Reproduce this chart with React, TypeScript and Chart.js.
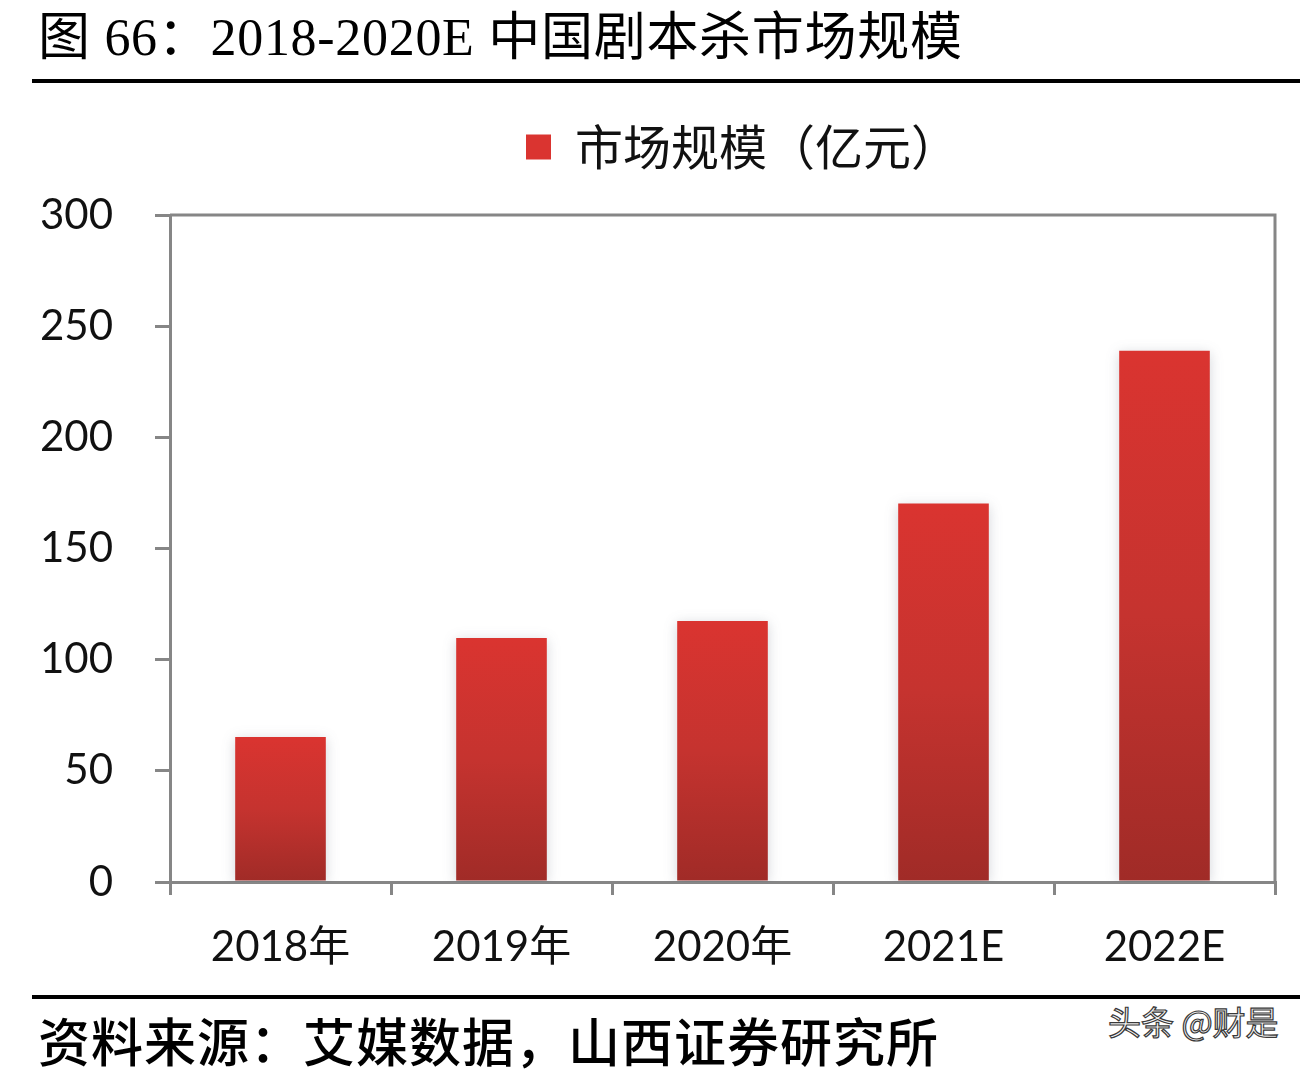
import React, { useEffect, useRef } from "react";
import { Chart, registerables } from "chart.js";

Chart.register(...registerables);

const categories = ["2018年", "2019年", "2020年", "2021E", "2022E"];
const marketSize = [65.2, 109.7, 117.4, 170.2, 238.9];
const seriesLabel = "市场规模（亿元）";
const yMin = 0;
const yMax = 300;
const yStep = 50;

const AXIS = "#868686";
const TICK_FONT = "Lato, 'Noto Sans CJK SC', sans-serif";

const legendGapPlugin = {
  id: "legendGap",
  beforeLayout(chart: any) {
    const lg = chart.legend;
    if (lg && !lg._gapPatched) {
      const orig = lg.fit;
      lg.fit = function (this: any) {
        orig.call(this);
        this.height += 29;
      };
      lg._gapPatched = true;
    }
  },
  afterLayout(chart: any) {
    const lg = chart.legend;
    if (lg) {
      lg.left += 20;
      lg.right += 20;
      lg.top -= 5;
      lg.bottom -= 5;
    }
  },
};

const framePlugin = {
  id: "frame",
  beforeDatasetsDraw(chart: any) {
    const { ctx, chartArea } = chart;
    const { left, right, top, bottom } = chartArea;
    ctx.save();
    ctx.strokeStyle = AXIS;
    ctx.lineWidth = 3;
    ctx.beginPath();
    ctx.moveTo(left, top);
    ctx.lineTo(right, top);
    ctx.lineTo(right, bottom);
    ctx.stroke();
    ctx.restore();
    ctx.save();
    ctx.shadowColor = "rgba(60,70,90,0.22)";
    ctx.shadowBlur = 12;
    ctx.shadowOffsetX = 0;
    ctx.shadowOffsetY = 2;
  },
  afterDatasetsDraw(chart: any) {
    chart.ctx.restore();
  },
};

function barColor(context: any) {
  if (context.type !== "data") return "#cf302c";
  const chart = context.chart;
  const y = chart.scales && chart.scales.y;
  if (!y || !chart.chartArea) return "#cf302c";
  const v = context.raw as number;
  const top = y.getPixelForValue(v);
  const base = y.getPixelForValue(0);
  if (!isFinite(top) || !isFinite(base) || top === base) return "#cf302c";
  const g = chart.ctx.createLinearGradient(0, top, 0, base);
  g.addColorStop(0, "#da3430");
  g.addColorStop(0.5, "#c5332f");
  g.addColorStop(1, "#a02b27");
  return g;
}

function BarChart() {
  const ref = useRef<HTMLCanvasElement | null>(null);
  useEffect(() => {
    if (!ref.current) return;
    const chart = new Chart(ref.current, {
      type: "bar",
      data: {
        labels: categories,
        datasets: [
          {
            label: seriesLabel,
            data: marketSize,
            backgroundColor: barColor as any,
            borderWidth: 0,
            categoryPercentage: 1,
            barPercentage: 0.41,
          },
        ],
      },
      options: {
        animation: false,
        responsive: false,
        devicePixelRatio: 1,
        layout: { padding: { top: 6, left: 0, right: 37, bottom: 0 } },
        plugins: {
          legend: {
            display: true,
            position: "top",
            fullSize: false,
            labels: {
              boxWidth: 25,
              boxHeight: 25,
              padding: 32,
              color: "#111",
              font: { size: 48, family: "'Noto Sans CJK SC', sans-serif" },
            },
          },
          tooltip: { enabled: false },
        },
        scales: {
          x: {
            type: "category",
            offset: true,
            grid: {
              offset: true,
              drawOnChartArea: false,
              drawTicks: true,
              tickLength: 13,
              color: AXIS,
              lineWidth: 3,
            },
            border: { display: true, color: AXIS, width: 3 },
            ticks: {
              color: "#111",
              padding: 27,
              maxRotation: 0,
              font: { size: 42, family: TICK_FONT },
            },
            afterFit(scale: any) {
              scale.height = 108;
            },
          },
          y: {
            min: yMin,
            max: yMax,
            grid: {
              drawOnChartArea: false,
              drawTicks: true,
              tickLength: 15,
              color: AXIS,
              lineWidth: 3,
            },
            border: { display: true, color: AXIS, width: 3 },
            ticks: {
              stepSize: yStep,
              color: "#111",
              padding: 42,
              font: { size: 42, family: TICK_FONT },
            },
            afterFit(scale: any) {
              scale.width = 170;
            },
          },
        },
      },
      plugins: [legendGapPlugin, framePlugin],
    });
    return () => chart.destroy();
  }, []);
  return <canvas ref={ref} width={1312} height={900} style={{ display: "block" }} />;
}

export default function App() {
  return (
    <div
      style={{
        position: "absolute",
        left: 0,
        top: 0,
        width: 1312,
        height: 1070,
        background: "#fff",
        overflow: "hidden",
      }}
    >
      <div
        style={{
          position: "absolute",
          left: 38,
          top: 10,
          fontFamily: "'Liberation Serif', 'Noto Sans CJK SC', serif",
          fontSize: 52,
          lineHeight: "56px",
          fontWeight: 400,
          letterSpacing: 0.7,
          color: "#000",
          whiteSpace: "nowrap",
        }}
      >
        图 66：2018-2020E 中国剧本杀市场规模
      </div>
      <div style={{ position: "absolute", left: 32, top: 79, width: 1268, height: 4, background: "#000" }} />
      <div style={{ position: "absolute", left: 0, top: 90 }}>
        <BarChart />
      </div>
      <div style={{ position: "absolute", left: 32, top: 995, width: 1268, height: 4, background: "#000" }} />
      <div
        style={{
          position: "absolute",
          left: 38,
          top: 1012,
          fontFamily: "'Noto Sans CJK SC', sans-serif",
          fontSize: 52,
          lineHeight: "56px",
          fontWeight: 500,
          letterSpacing: 1,
          color: "#000",
          whiteSpace: "nowrap",
        }}
      >
        资料来源：艾媒数据，山西证券研究所
      </div>
      <div
        style={{
          position: "absolute",
          left: 1108,
          top: 1002,
          fontFamily: "'Noto Sans CJK SC', sans-serif",
          fontSize: 33,
          lineHeight: "38px",
          color: "#f6f6f6",
          WebkitTextStroke: "1.2px #3a3a3a",
          whiteSpace: "nowrap",
        }}
      >
        头条 @财是
      </div>
    </div>
  );
}
